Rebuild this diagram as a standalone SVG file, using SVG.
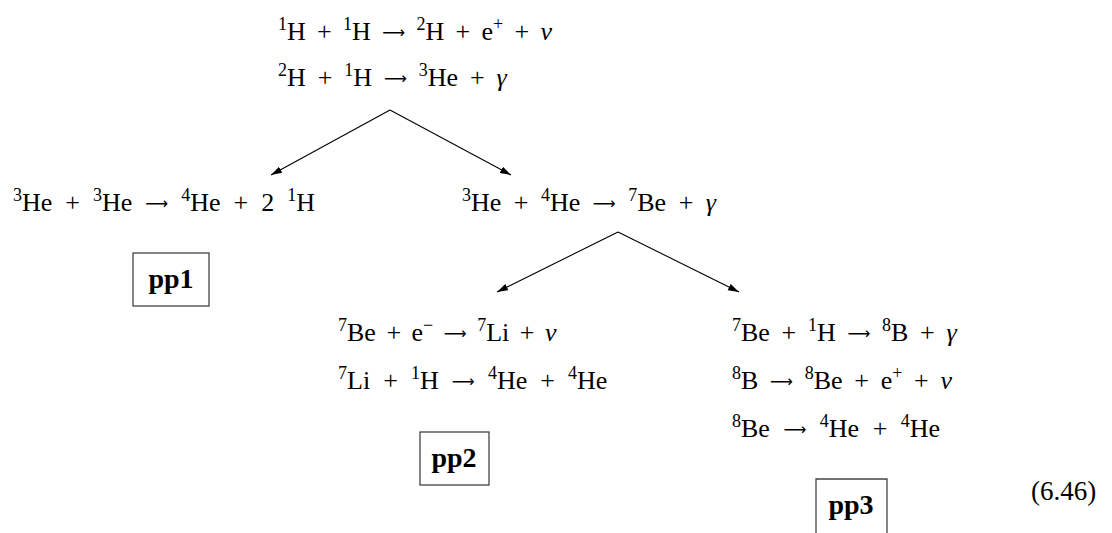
<svg xmlns="http://www.w3.org/2000/svg" width="1112" height="533" viewBox="0 0 1112 533">
<style>
  text { font-family: "Liberation Serif", "Times New Roman", serif; font-size: 26px; fill: #000; }
  .s { font-size: 18px; }
  .i { font-style: italic; }
  .a { font-family: "DejaVu Sans", sans-serif; font-size: 16px; }
  .lbl { font-weight: bold; font-size: 28px; text-anchor: middle; }
  .box { fill: none; stroke: #444; stroke-width: 1.3; }
  .conn line { stroke: #000; stroke-width: 1.1; marker-end: url(#ah); }
</style>
<defs>
  <marker id="ah" markerUnits="userSpaceOnUse" markerWidth="12" markerHeight="8" refX="11" refY="3.5" orient="auto">
    <path d="M0,0 L11,3.5 L0,7 z" fill="#000"/>
  </marker>
</defs>
<rect width="1112" height="533" fill="#fff"/>

<g id="start">
  <text x="278" y="40" style="word-spacing:4.8px"><tspan class="s" dy="-10">1</tspan><tspan dy="10">H + </tspan><tspan class="s" dy="-10">1</tspan><tspan dy="10">H </tspan><tspan class="a" dy="-2">⟶</tspan><tspan dy="2"> </tspan><tspan class="s" dy="-10">2</tspan><tspan dy="10">H + e</tspan><tspan class="s" dy="-10">+</tspan><tspan dy="10"> + </tspan><tspan class="i">ν</tspan></text>
  <text x="278" y="86" style="word-spacing:5.4px"><tspan class="s" dy="-10">2</tspan><tspan dy="10">H + </tspan><tspan class="s" dy="-10">1</tspan><tspan dy="10">H </tspan><tspan class="a" dy="-2">⟶</tspan><tspan dy="2"> </tspan><tspan class="s" dy="-10">3</tspan><tspan dy="10">He + </tspan><tspan class="i">γ</tspan></text>
</g>

<g id="he3he3">
  <text x="13" y="211" style="word-spacing:6.5px"><tspan class="s" dy="-10">3</tspan><tspan dy="10">He + </tspan><tspan class="s" dy="-10">3</tspan><tspan dy="10">He </tspan><tspan class="a" dy="-2">⟶</tspan><tspan dy="2"> </tspan><tspan class="s" dy="-10">4</tspan><tspan dy="10">He + 2 </tspan><tspan class="s" dy="-10">1</tspan><tspan dy="10">H</tspan></text>
</g>

<g id="he3he4">
  <text x="462" y="211" style="word-spacing:6px"><tspan class="s" dy="-10">3</tspan><tspan dy="10">He + </tspan><tspan class="s" dy="-10">4</tspan><tspan dy="10">He </tspan><tspan class="a" dy="-2">⟶</tspan><tspan dy="2"> </tspan><tspan class="s" dy="-10">7</tspan><tspan dy="10">Be + </tspan><tspan class="i">γ</tspan></text>
</g>

<g id="pp1">
  <rect class="box" x="133" y="253" width="76" height="53"/>
  <text class="lbl" x="171" y="288">pp1</text>
</g>

<g id="pp2chain">
  <text x="338" y="341" style="word-spacing:4px"><tspan class="s" dy="-10">7</tspan><tspan dy="10">Be + e</tspan><tspan class="s" dy="-10">−</tspan><tspan dy="10">  </tspan><tspan class="a" dy="-2">⟶</tspan><tspan dy="2"> </tspan><tspan class="s" dy="-10">7</tspan><tspan dy="10">Li + </tspan><tspan class="i">ν</tspan></text>
  <text x="338" y="389" style="word-spacing:6.6px"><tspan class="s" dy="-10">7</tspan><tspan dy="10">Li + </tspan><tspan class="s" dy="-10">1</tspan><tspan dy="10">H </tspan><tspan class="a" dy="-2">⟶</tspan><tspan dy="2"> </tspan><tspan class="s" dy="-10">4</tspan><tspan dy="10">He + </tspan><tspan class="s" dy="-10">4</tspan><tspan dy="10">He</tspan></text>
</g>

<g id="pp2">
  <rect class="box" x="420" y="432" width="69" height="53"/>
  <text class="lbl" x="454" y="467">pp2</text>
</g>

<g id="pp3chain">
  <text x="732" y="341" style="word-spacing:5.2px"><tspan class="s" dy="-10">7</tspan><tspan dy="10">Be + </tspan><tspan class="s" dy="-10">1</tspan><tspan dy="10">H </tspan><tspan class="a" dy="-2">⟶</tspan><tspan dy="2"> </tspan><tspan class="s" dy="-10">8</tspan><tspan dy="10">B + </tspan><tspan class="i">γ</tspan></text>
  <text x="732" y="389" style="word-spacing:5.2px"><tspan class="s" dy="-10">8</tspan><tspan dy="10">B </tspan><tspan class="a" dy="-2">⟶</tspan><tspan dy="2"> </tspan><tspan class="s" dy="-10">8</tspan><tspan dy="10">Be + e</tspan><tspan class="s" dy="-10">+</tspan><tspan dy="10"> + </tspan><tspan class="i">ν</tspan></text>
  <text x="732" y="437" style="word-spacing:7px"><tspan class="s" dy="-10">8</tspan><tspan dy="10">Be </tspan><tspan class="a" dy="-2">⟶</tspan><tspan dy="2"> </tspan><tspan class="s" dy="-10">4</tspan><tspan dy="10">He + </tspan><tspan class="s" dy="-10">4</tspan><tspan dy="10">He</tspan></text>
</g>

<g id="pp3">
  <path class="box" d="M816,540 V479 H887 V540"/>
  <text class="lbl" x="851" y="514">pp3</text>
</g>

<g id="eqnum">
  <text x="1031" y="500" style="font-size:27px">(6.46)</text>
</g>

<g class="conn" id="connectors">
  <line x1="390" y1="110" x2="271" y2="175"/>
  <line x1="390" y1="110" x2="511" y2="175"/>
  <line x1="618" y1="232" x2="497" y2="292"/>
  <line x1="618" y1="232" x2="739" y2="292"/>
</g>
</svg>
